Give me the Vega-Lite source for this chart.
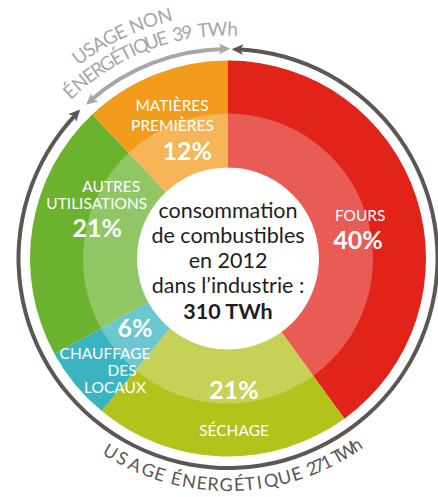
{
  "$schema": "https://vega.github.io/schema/vega-lite/v6.json",
  "width": 420,
  "height": 477,
  "padding": {"left": 18, "top": 20, "right": 0, "bottom": 0},
  "autosize": {"type": "none"},
  "background": "white",
  "config": {"view": {"stroke": null}, "text": {"font": "Lato"}},
  "datasets": {
    "segments": [
      {"usage": "Fours", "rang": 1, "pct": 40},
      {"usage": "Séchage", "rang": 2, "pct": 21},
      {"usage": "Chauffage des locaux", "rang": 3, "pct": 6},
      {"usage": "Autres utilisations", "rang": 4, "pct": 21},
      {"usage": "Matières premières", "rang": 5, "pct": 12}
    ],
    "arcs": [
      {"usage": "non énergétique", "t1": 319, "t2": 358.9},
      {"usage": "énergétique", "t1": 2.7, "t2": 313.5}
    ],
    "heads": [
      {"usage": "non énergétique", "t": 358.9, "sens": "horaire"},
      {"usage": "non énergétique", "t": 319, "sens": "antihoraire"},
      {"usage": "énergétique", "t": 2.7, "sens": "antihoraire"},
      {"usage": "énergétique", "t": 313.5, "sens": "horaire"}
    ],
    "haut1": [
      {"c": "U", "t": 323.8}, {"c": "S", "t": 326.4}, {"c": "A", "t": 329.0},
      {"c": "G", "t": 331.9}, {"c": "E", "t": 334.6}, {"c": "N", "t": 338.6},
      {"c": "O", "t": 342.0}, {"c": "N", "t": 345.4}
    ],
    "haut2": [
      {"c": "É", "t": 316.6}, {"c": "N", "t": 319.9}, {"c": "E", "t": 322.9},
      {"c": "R", "t": 325.4}, {"c": "G", "t": 328.2}, {"c": "É", "t": 331.0},
      {"c": "T", "t": 333.5}, {"c": "I", "t": 335.4}, {"c": "Q", "t": 337.7},
      {"c": "U", "t": 340.6}, {"c": "E", "t": 343.3}, {"c": "3", "t": 347.4},
      {"c": "9", "t": 349.7}, {"c": "T", "t": 353.8}, {"c": "W", "t": 357.4},
      {"c": "h", "t": 1.2}
    ],
    "bas": [
      {"c": "U", "t": 211.3}, {"c": "S", "t": 207.9}, {"c": "A", "t": 204.3},
      {"c": "G", "t": 200.6}, {"c": "E", "t": 197.5}, {"c": "É", "t": 193.2},
      {"c": "N", "t": 189.9}, {"c": "E", "t": 186.6}, {"c": "R", "t": 183.8},
      {"c": "G", "t": 180.5}, {"c": "É", "t": 177.2}, {"c": "T", "t": 174.5},
      {"c": "I", "t": 172.0}, {"c": "Q", "t": 169.0}, {"c": "U", "t": 165.5},
      {"c": "E", "t": 162.3}, {"c": "2", "t": 158.2}, {"c": "7", "t": 156.3},
      {"c": "1", "t": 154.2}, {"c": "T", "t": 151.0}, {"c": "W", "t": 148.4},
      {"c": "h", "t": 145.5}
    ],
    "noms": [
      {"txt": "MATIÈRES", "t": 339.8, "r": 162},
      {"txt": "PREMIÈRES", "t": 337.3, "r": 144},
      {"txt": "AUTRES", "t": 301.5, "r": 137},
      {"txt": "UTILISATIONS", "t": 292.4, "r": 142},
      {"txt": "FOURS", "t": 72, "r": 139},
      {"txt": "CHAUFFAGE", "t": 232.3, "r": 155.4},
      {"txt": "DES", "t": 223.4, "r": 154.2},
      {"txt": "LOCAUX", "t": 221.2, "r": 171.5},
      {"txt": "SÉCHAGE", "t": 178, "r": 173}
    ],
    "pcts": [
      {"txt": "12%", "t": 339, "r": 114},
      {"txt": "21%", "t": 282.5, "r": 134},
      {"txt": "40%", "t": 82.5, "r": 131},
      {"txt": "6%", "t": 233, "r": 116.4},
      {"txt": "21%", "t": 177.4, "r": 133}
    ],
    "centre": [
      {"txt": "consommation", "t": 0, "r": 47},
      {"txt": "de combustibles", "t": 0, "r": 22},
      {"txt": "en 2012", "t": 180, "r": 3},
      {"txt": "dans l’industrie :", "t": 180, "r": 28}
    ],
    "total": [
      {"txt": "310 TWh", "t": 180, "r": 54}
    ]
  },
  "layer": [
    {
      "data": {"name": "segments"},
      "mark": {"type": "arc", "radius": 198, "radius2": 91},
      "encoding": {
        "theta": {"field": "pct", "type": "quantitative", "stack": true},
        "order": {"field": "rang", "type": "quantitative"},
        "color": {
          "field": "usage",
          "type": "nominal",
          "scale": {
            "domain": ["Fours", "Séchage", "Chauffage des locaux", "Autres utilisations", "Matières premières"],
            "range": ["#e2231a", "#b2c31b", "#3bb4c1", "#6bb32e", "#f39c1b"]
          },
          "legend": null
        }
      }
    },
    {
      "data": {"name": "segments"},
      "mark": {"type": "arc", "radius": 145, "radius2": 91, "fill": "white", "opacity": 0.26},
      "encoding": {
        "theta": {"field": "pct", "type": "quantitative", "stack": true},
        "order": {"field": "rang", "type": "quantitative"}
      }
    },
    {
      "data": {"name": "arcs"},
      "mark": {"type": "arc", "radius": 211.5, "radius2": 207.5},
      "encoding": {
        "theta": {"field": "t1", "type": "quantitative", "stack": null, "scale": {"domain": [0, 360]}},
        "theta2": {"field": "t2"},
        "color": {
          "field": "usage",
          "type": "nominal",
          "scale": {"domain": ["non énergétique", "énergétique"], "range": ["#a7a7a7", "#5c5654"]},
          "legend": null
        }
      }
    },
    {
      "data": {"name": "heads"},
      "transform": [{"filter": "datum.sens === 'horaire'"}],
      "mark": {"type": "text", "text": "➤", "radius": 209.5, "font": "DejaVu Sans", "fontSize": 17, "align": "center", "baseline": "middle"},
      "encoding": {
        "theta": {"field": "t", "type": "quantitative", "stack": null, "scale": {"domain": [0, 360]}},
        "angle": {"field": "t", "type": "quantitative", "scale": {"domain": [0, 360], "range": [0, 360]}},
        "color": {
          "field": "usage",
          "type": "nominal",
          "scale": {"domain": ["non énergétique", "énergétique"], "range": ["#a7a7a7", "#5c5654"]},
          "legend": null
        }
      }
    },
    {
      "data": {"name": "heads"},
      "transform": [{"filter": "datum.sens === 'antihoraire'"}],
      "mark": {"type": "text", "text": "➤", "radius": 209.5, "font": "DejaVu Sans", "fontSize": 17, "align": "center", "baseline": "middle"},
      "encoding": {
        "theta": {"field": "t", "type": "quantitative", "stack": null, "scale": {"domain": [0, 360]}},
        "angle": {"field": "t", "type": "quantitative", "scale": {"domain": [0, 360], "range": [180, 540]}},
        "color": {
          "field": "usage",
          "type": "nominal",
          "scale": {"domain": ["non énergétique", "énergétique"], "range": ["#a7a7a7", "#5c5654"]},
          "legend": null
        }
      }
    },
    {
      "data": {"name": "haut1"},
      "mark": {"type": "text", "radius": 250, "fontSize": 19, "fill": "#a7a7a7", "align": "center", "baseline": "middle"},
      "encoding": {
        "text": {"field": "c"},
        "theta": {"field": "t", "type": "quantitative", "stack": null, "scale": {"domain": [0, 360]}},
        "angle": {"field": "t", "type": "quantitative", "scale": {"domain": [0, 360], "range": [0, 360]}}
      }
    },
    {
      "data": {"name": "haut2"},
      "mark": {"type": "text", "radius": 229, "fontSize": 19, "fill": "#a7a7a7", "align": "center", "baseline": "middle"},
      "encoding": {
        "text": {"field": "c"},
        "theta": {"field": "t", "type": "quantitative", "stack": null, "scale": {"domain": [0, 360]}},
        "angle": {"field": "t", "type": "quantitative", "scale": {"domain": [0, 360], "range": [0, 360]}}
      }
    },
    {
      "data": {"name": "bas"},
      "mark": {"type": "text", "radius": 227.5, "fontSize": 18, "fill": "#5c5654", "align": "center", "baseline": "middle"},
      "encoding": {
        "text": {"field": "c"},
        "theta": {"field": "t", "type": "quantitative", "stack": null, "scale": {"domain": [0, 360]}},
        "angle": {"field": "t", "type": "quantitative", "scale": {"domain": [0, 360], "range": [-180, 180]}}
      }
    },
    {
      "data": {"name": "noms"},
      "mark": {"type": "text", "fontSize": 15.5, "fill": "white", "align": "center", "baseline": "middle"},
      "encoding": {
        "text": {"field": "txt"},
        "theta": {"field": "t", "type": "quantitative", "stack": null, "scale": {"domain": [0, 360]}},
        "radius": {"field": "r", "type": "quantitative", "scale": {"type": "linear", "domain": [0, 300], "range": [0, 300]}}
      }
    },
    {
      "data": {"name": "pcts"},
      "mark": {"type": "text", "fontSize": 25, "fontWeight": "bold", "fill": "white", "align": "center", "baseline": "middle"},
      "encoding": {
        "text": {"field": "txt"},
        "theta": {"field": "t", "type": "quantitative", "stack": null, "scale": {"domain": [0, 360]}},
        "radius": {"field": "r", "type": "quantitative", "scale": {"type": "linear", "domain": [0, 300], "range": [0, 300]}}
      }
    },
    {
      "data": {"name": "centre"},
      "mark": {"type": "text", "fontSize": 21.5, "fill": "#1e1e1e", "align": "center", "baseline": "middle"},
      "encoding": {
        "text": {"field": "txt"},
        "theta": {"field": "t", "type": "quantitative", "stack": null, "scale": {"domain": [0, 360]}},
        "radius": {"field": "r", "type": "quantitative", "scale": {"type": "linear", "domain": [0, 300], "range": [0, 300]}}
      }
    },
    {
      "data": {"name": "total"},
      "mark": {"type": "text", "fontSize": 21.5, "fontWeight": "bold", "fill": "#1e1e1e", "align": "center", "baseline": "middle"},
      "encoding": {
        "text": {"field": "txt"},
        "theta": {"field": "t", "type": "quantitative", "stack": null, "scale": {"domain": [0, 360]}},
        "radius": {"field": "r", "type": "quantitative", "scale": {"type": "linear", "domain": [0, 300], "range": [0, 300]}}
      }
    }
  ],
  "resolve": {"scale": {"theta": "independent", "color": "independent", "angle": "independent", "radius": "independent"}}
}
